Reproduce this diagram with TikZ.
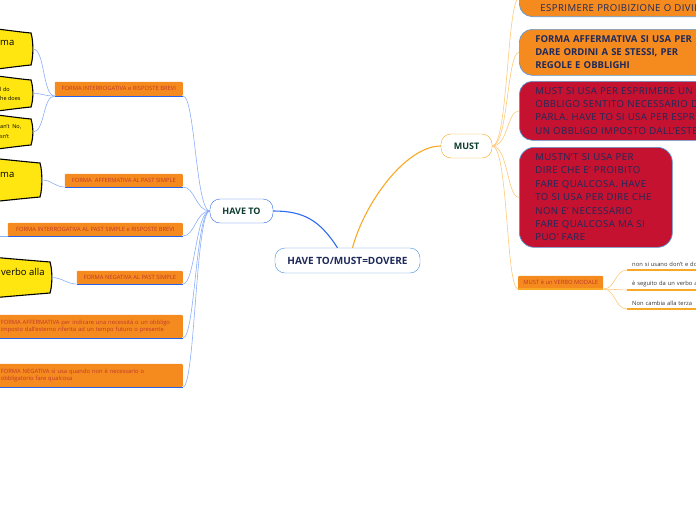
\documentclass[tikz,border=0pt]{standalone}
\usepackage{fontspec}
\setmainfont{Open Sans}
\usetikzlibrary{positioning}

\definecolor{hubline}{HTML}{2F6BEF}
\definecolor{branchline}{HTML}{8AAEF8}
\definecolor{underblue}{HTML}{2563EB}
\definecolor{boxorange}{HTML}{F58A1F}
\definecolor{labelred}{HTML}{C0392B}
\definecolor{crimson}{HTML}{C41230}
\definecolor{navytext}{HTML}{1E2A5A}
\definecolor{tagyellow}{HTML}{FFE610}
\definecolor{mustline}{HTML}{F9A825}
\definecolor{mustthin}{HTML}{FDC97A}
\definecolor{edgeblue}{HTML}{5B9BD5}
\definecolor{nodegreen}{HTML}{0D3B2E}
\definecolor{centralblue}{HTML}{4A90D9}

\begin{document}
\begin{tikzpicture}[x=1pt, y=1pt,
        % main topics
        topic/.style={
            draw,
            rounded corners=10pt,
            fill=white,
            minimum height=24pt,
            inner xsep=4pt,
            text=nodegreen,
            font=\fontsize{9}{10}\selectfont\bfseries
        },
        % left branches under HAVE TO
        hbranch/.style={
            fill=boxorange,
            rounded corners=1pt,
            text=labelred,
            font=\fontsize{5.8}{7.5}\selectfont,
            inner xsep=3pt,
            inner ysep=2pt,
            anchor=south east
        },
        hunder/.style={underblue, line width=1pt},
        hlink/.style={branchline, line width=0.6pt},
        tagshape/.style={draw=black, line width=1.1pt, fill=tagyellow},
        tagtext/.style={anchor=west, inner sep=0pt, align=left},
        % right boxes under MUST
        mbox/.style={
            draw=edgeblue,
            line width=0.7pt,
            rounded corners=13pt,
            text=navytext,
            align=left,
            inner xsep=16pt,
            font=\fontsize{9.6}{13.4}\selectfont\addfontfeatures{LetterSpace=4.5}
        },
        mlink/.style={mustthin, line width=0.6pt},
        munder/.style={mustline, line width=1.1pt},
        mleaf/.style={
            anchor=south west,
            text width=70pt,
            inner xsep=5pt,
            inner ysep=3pt,
            text=black!80,
            font=\fontsize{5.8}{7}\selectfont
        }
        ]

        \useasboundingbox (0,0) rectangle (696,-520);
        \clip (0,0) rectangle (696,-520);

        % central idea and the two topics
        \node [topic, draw=centralblue, text=navytext, minimum width=145pt, minimum height=25pt,
               font=\fontsize{10}{12}\selectfont\bfseries] (central) at (347.5,-260.5) {HAVE TO/MUST=DOVERE};
        \node [topic, draw=hubline, minimum width=63pt] (haveto) at (241.5,-211) {HAVE TO};
        \node [topic, draw=mustline, minimum width=51pt] (must) at (466.5,-146) {MUST};

        \draw [hubline, line width=1.1pt] ([xshift=-10pt]central.north) .. controls +(-18,28) and +(30,0) .. (haveto.east);
        \draw [mustline, line width=1.1pt] ([xshift=5pt]central.north) .. controls +(12,45) and +(-35,0) .. (must.west);

        % HAVE TO branches
        \node [hbranch, minimum width=128pt, minimum height=14pt] (b1) at (183,-96) {FORMA INTERROGATIVA e RISPOSTE BREVI};
        \node [hbranch, minimum width=118pt, minimum height=13pt] (b2) at (183,-187) {FORMA\ \ AFFERMATIVA AL PAST SIMPLE};
        \node [hbranch, minimum width=175pt, minimum height=13pt] (b3) at (183,-236) {FORMA INTERROGATIVA AL PAST SIMPLE e RISPOSTE BREVI};
        \node [hbranch, minimum width=106pt, minimum height=13pt] (b4) at (183,-284) {FORMA NEGATIVA AL PAST SIMPLE};
        \node [hbranch, text width=178pt, inner xsep=4pt, minimum height=23pt, align=left] (b5) at (183,-338)
            {FORMA AFFERMATIVA per indicare una necessità o un obbligo\\imposto dall'esterno riferita ad un tempo futuro o presente};
        \node [hbranch, text width=178pt, inner xsep=4pt, minimum height=23pt, align=left] (b6) at (183,-387)
            {FORMA NEGATIVA si usa quando non è necessario o\\obbligatorio fare qualcosa};

        \foreach \b in {b1,b2,b3,b4,b5,b6}{
            \draw [hunder] (\b.south west) -- (\b.south east);
            \draw [hlink] (haveto.west) .. controls +(-14,0) and +(12,0) .. (\b.south east);
        }
        \coordinate (b3out) at (-5,-236);
        \draw [hlink] (b3.south west) -- (b3out);

        % yellow tags on the left edge
        \foreach \i/\xr/\yt/\yb in {1/31/33/65, 2/31/80/107, 3/31/119/145, 4/40/163/197, 5/50/262/293}{
            \draw [tagshape] (-30,{-(\yt-7)}) .. controls (0,{-(\yt-4)}) and ({\xr-12},{-(\yt-1)}) .. (\xr,-\yt)
                .. controls ({\xr+2.5},{-(\yt+8)}) and ({\xr+2.5},{-(\yb-8)}) .. (\xr,-\yb)
                .. controls ({\xr-12},{-(\yb+1)}) and (0,{-(\yb+4)}) .. (-30,{-(\yb+7)}) -- cycle;
            \coordinate (tag\i) at ({\xr+2},{-(\yt+\yb)/2});
        }
        \node [tagtext, font=\fontsize{9.5}{11}\selectfont] (tag1txt) at (0,-43) {ma};
        \node [tagtext, font=\fontsize{5.5}{9}\selectfont] (tag2txt) at (0,-93.5) {l do\\he does};
        \node [tagtext, font=\fontsize{5.5}{10}\selectfont] (tag3txt) at (0,-132) {an't\ \ No,\\sn't};
        \node [tagtext, font=\fontsize{9.5}{11}\selectfont] (tag4txt) at (0,-175) {ma};
        \node [tagtext, font=\fontsize{9.5}{11}\selectfont] (tag5txt) at (1,-272) {verbo alla};

        \draw [hlink] (tag1) .. controls +(12,0) and +(-12,0) .. (b1.south west);
        \draw [hlink] (tag2) .. controls +(12,0) and +(-12,0) .. (b1.south west);
        \draw [hlink] (tag3) .. controls +(12,0) and +(-12,0) .. (b1.south west);
        \draw [hlink] (tag4) .. controls +(10,0) and +(-10,0) .. (b2.south west);
        \draw [hlink] (tag5) .. controls +(10,0) and +(-10,0) .. (b4.south west);

        % MUST branches
        \node [mbox, fill=boxorange, anchor=south west, text width=200pt, inner ysep=3pt,
               text height=28pt, text depth=2.5pt, inner xsep=21pt] (m1) at (519,-17) {ESPRIMERE PROIBIZIONE O DIVIE};
        \node [mbox, fill=boxorange, anchor=north west, text width=200pt, minimum height=46pt,
               font=\fontsize{9.5}{13}\selectfont\bfseries] (m2) at (519,-29)
            {FORMA AFFERMATIVA SI USA PER\\DARE ORDINI A SE STESSI, PER\\REGOLE E OBBLIGHI};
        \node [mbox, fill=crimson, anchor=north west, text width=200pt, minimum height=59pt] (m3) at (519,-81)
            {MUST SI USA PER ESPRIMERE UN\\OBBLIGO SENTITO NECESSARIO D\\PARLA. HAVE TO SI USA PER ESPRI\\UN OBBLIGO IMPOSTO DALL'ESTE};
        \node [mbox, fill=crimson, anchor=north west, text width=121pt, minimum height=100pt, rounded corners=15pt] (m4) at (519,-147)
            {MUSTN'T SI USA PER\\DIRE CHE E' PROIBITO\\FARE QUALCOSA. HAVE\\TO SI USA PER DIRE CHE\\NON E' NECESSARIO\\FARE QUALCOSA MA SI\\PUO' FARE};
        \node [hbranch, anchor=south west, minimum width=85pt, minimum height=13pt] (m5) at (518,-289) {MUST è un VERBO MODALE};
        \draw [munder] (m5.south west) -- (m5.south east);

        \draw [mlink] (must.east) .. controls +(16,0) and +(-12,0) .. (m1.west);
        \draw [mlink] (must.east) .. controls +(16,0) and +(-12,0) .. (m2.west);
        \draw [mlink] (must.east) .. controls +(16,0) and +(-12,0) .. (m3.west);
        \draw [mlink] (must.east) .. controls +(16,0) and +(-12,0) .. (m4.west);
        \draw [mlink] (must.east) .. controls +(16,0) and +(-12,0) .. (m5.south west);

        % leaves of MUST è un VERBO MODALE
        \node [mleaf] (r1) at (627,-270) {non si usano don't e do};
        \node [mleaf] (r2) at (627,-290) {è seguito da un verbo a};
        \node [mleaf] (r3) at (627,-309) {Non cambia alla terza};
        \foreach \r in {r1,r2,r3}{
            \draw [munder] (\r.south west) -- (\r.south east);
            \draw [mlink] (m5.south east) .. controls +(12,0) and +(-12,0) .. (\r.south west);
        }
\end{tikzpicture}
\end{document}
